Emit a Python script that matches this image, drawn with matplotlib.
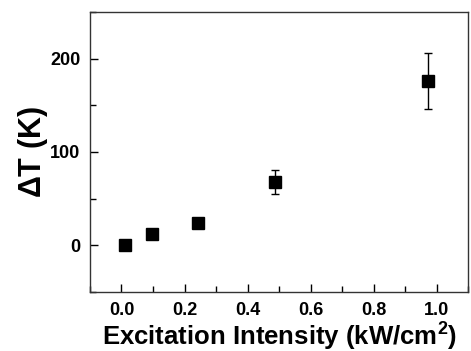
import matplotlib
matplotlib.use('Agg')
import matplotlib.pyplot as plt
from matplotlib.ticker import MultipleLocator

# data
intensity = [0.01, 0.097, 0.243, 0.487, 0.973]
delta_t = [0, 12, 24, 68, 176]
delta_t_err = [2, 3, 5, 13, 30]

plt.rcParams['font.family'] = ['Liberation Sans', 'DejaVu Sans']
plt.rcParams['font.weight'] = 'bold'
plt.rcParams['mathtext.fontset'] = 'custom'
plt.rcParams['mathtext.rm'] = 'Liberation Sans:bold'
plt.rcParams['mathtext.bf'] = 'Liberation Sans:bold'

fig = plt.figure(figsize=(4.71, 3.51), dpi=100)
ax = fig.add_axes([0.191, 0.168, 0.803, 0.798])

ax.errorbar(intensity, delta_t, yerr=delta_t_err, fmt='s', color='black',
            markersize=9, ecolor='black', elinewidth=1, capsize=3, capthick=1)

ax.set_xlim(-0.1, 1.1)
ax.set_ylim(-50, 250)
ax.xaxis.set_major_locator(MultipleLocator(0.2))
ax.xaxis.set_minor_locator(MultipleLocator(0.1))
ax.yaxis.set_major_locator(MultipleLocator(100))
ax.yaxis.set_minor_locator(MultipleLocator(50))
ax.tick_params(which='both', direction='in', labelsize=13, width=1)
ax.tick_params(which='major', length=6, pad=7)
ax.tick_params(which='minor', length=4)
for s in ax.spines.values():
    s.set_linewidth(1)
    s.set_color('#333333')

ax.set_xlabel(r'Excitation Intensity (kW/cm$^{2}$)', fontsize=18.5, fontweight='bold', labelpad=0)
ax.set_ylabel(r'$\Delta$T (K)', fontsize=22, fontweight='bold', labelpad=0)

fig.savefig('out.png', dpi=100)
